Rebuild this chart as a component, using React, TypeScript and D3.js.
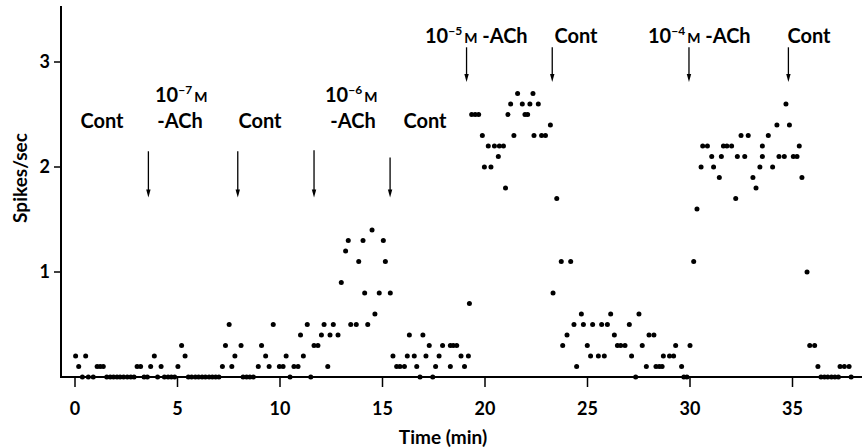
import React from 'react';
import * as d3 from 'd3';

// [time (min), spikes/sec], one array per period
const contA = [
  [0.03, 0.2], [0.18, 0.1], [0.36, 0], [0.52, 0.2], [0.65, 0], [0.89, 0], [1.08, 0.1], [1.23, 0.1], [1.38, 0.1],
  [1.55, 0], [1.72, 0], [1.88, 0], [2.05, 0], [2.2, 0], [2.37, 0], [2.55, 0], [2.72, 0], [2.88, 0],
  [3.03, 0.1], [3.2, 0.1], [3.37, 0], [3.53, 0],
];
const ach7 = [
  [3.69, 0.1], [3.87, 0.2], [4.03, 0], [4.2, 0.1], [4.36, 0], [4.54, 0], [4.7, 0], [4.86, 0], [5.02, 0.1],
  [5.2, 0.3], [5.37, 0.2], [5.53, 0], [5.69, 0], [5.87, 0], [6.03, 0], [6.2, 0], [6.36, 0], [6.54, 0],
  [6.7, 0], [6.86, 0], [7.02, 0], [7.19, 0.1], [7.34, 0.3], [7.52, 0.5], [7.65, 0.1], [7.8, 0.2],
];
const contB = [
  [8.1, 0.3], [8.2, 0], [8.37, 0], [8.53, 0], [8.7, 0], [8.94, 0.1], [9.1, 0.3], [9.3, 0.2], [9.47, 0.1],
  [9.67, 0.5], [9.97, 0.1], [10.15, 0.1], [10.3, 0.2], [10.49, 0], [10.68, 0.1], [10.88, 0.1], [11.0, 0.4],
  [11.14, 0.2], [11.33, 0.5], [11.5, 0],
];
const ach6 = [
  [11.66, 0.3], [11.85, 0.3], [12.02, 0.4], [12.15, 0.5], [12.33, 0.1], [12.44, 0.4], [12.6, 0.5], [12.83, 0.4],
  [12.99, 0.9], [13.2, 1.2], [13.33, 1.3], [13.45, 0.5], [13.72, 0.5], [13.84, 1.1], [14.05, 1.3], [14.13, 0.8],
  [14.28, 0.5], [14.49, 1.4], [14.63, 0.6], [14.84, 0.8], [15.04, 1.3], [15.14, 1.1], [15.38, 0.8],
];
const contC = [
  [15.51, 0.2], [15.69, 0.1], [15.85, 0.1], [16.07, 0.1], [16.21, 0.2], [16.31, 0.4], [16.55, 0.2], [16.67, 0.1],
  [16.83, 0], [16.97, 0.4], [17.12, 0.2], [17.28, 0.3], [17.45, 0], [17.59, 0.1], [17.76, 0.2], [17.93, 0.3],
  [18.31, 0.1], [18.31, 0.3], [18.45, 0.3], [18.62, 0.3], [18.83, 0.2], [19.0, 0.1], [19.19, 0.2], [19.24, 0.7],
];
const ach5 = [
  [19.35, 2.5], [19.52, 2.5], [19.69, 2.5], [19.87, 2.3], [19.97, 2.0], [20.16, 2.2], [20.29, 2.0], [20.46, 2.2],
  [20.65, 2.1], [20.7, 2.2], [20.9, 2.2], [21.0, 1.8], [21.12, 2.5], [21.25, 2.6], [21.41, 2.3], [21.59, 2.7],
  [21.82, 2.6], [21.95, 2.5], [22.08, 2.5], [22.19, 2.6], [22.34, 2.7], [22.39, 2.3], [22.6, 2.6], [22.76, 2.3],
  [22.95, 2.3], [23.19, 2.4],
];
const contD = [
  [23.32, 0.8], [23.5, 1.7], [23.72, 1.1], [23.79, 0.3], [24.0, 0.4], [24.18, 1.1], [24.34, 0.5], [24.47, 0.1],
  [24.7, 0.6], [24.8, 0.5], [24.99, 0.3], [25.15, 0.2], [25.25, 0.5], [25.53, 0.2], [25.69, 0.5], [25.82, 0.2],
  [25.97, 0.5], [26.13, 0.6], [26.31, 0.4], [26.46, 0.3], [26.62, 0.3], [26.83, 0.3], [27.04, 0.5], [27.15, 0.2],
  [27.35, 0], [27.51, 0.6], [27.67, 0.3], [27.87, 0.1], [28.0, 0.4], [28.24, 0.4], [28.34, 0.1], [28.5, 0.1],
  [28.64, 0.1], [28.7, 0.2], [29.0, 0.2], [29.2, 0.2], [29.3, 0.3], [29.59, 0.1], [29.7, 0], [29.85, 0],
];
const ach4 = [
  [30.0, 0.3], [30.18, 1.1], [30.34, 1.6], [30.54, 2.0], [30.62, 2.2], [30.85, 2.2], [31.06, 2.1], [31.15, 2.0],
  [31.43, 1.9], [31.53, 2.1], [31.63, 2.2], [31.8, 2.2], [32.03, 2.2], [32.23, 1.7], [32.31, 2.1], [32.49, 2.3],
  [32.67, 2.1], [32.84, 2.3], [33.07, 1.9], [33.22, 1.8], [33.41, 2.0], [33.53, 2.2], [33.53, 2.1], [33.82, 2.3],
  [34.03, 2.0], [34.24, 2.4], [34.34, 2.1], [34.6, 2.1], [34.68, 2.6],
];
const contE = [
  [34.85, 2.4], [35.04, 2.1], [35.22, 2.1], [35.33, 2.2], [35.46, 1.9], [35.71, 1.0], [35.84, 0.3], [36.08, 0.3],
  [36.24, 0.1], [36.39, 0], [36.56, 0], [36.72, 0], [36.9, 0], [37.07, 0], [37.24, 0], [37.32, 0.1], [37.53, 0.1],
  [37.76, 0.1], [37.86, 0],
];

const xTicks = [0, 5, 10, 15, 20, 25, 30, 35];
const yTicks = [1, 2, 3];

// arrows: [time, top of shaft (spikes/sec)]
const lowArrows = [[3.58, 2.15], [7.94, 2.15], [11.66, 2.16], [15.37, 2.09]];
const highArrows = [[19.1, 3.14], [23.28, 3.14], [29.95, 3.14], [34.8, 3.14]];

const font = 'Lato, "DejaVu Sans", sans-serif';
const lbl = { fontFamily: font, fontWeight: 700, fontSize: 20 };

function Conc({ x, y, exp, tail = '' }) {
  return (
    <text x={x} y={y} {...lbl}>
      10
      <tspan fontSize={12} dy={-8}>{'\u2212' + exp}</tspan>
      <tspan fontSize={14} dy={8} dx={2}>M</tspan>
      {tail}
    </text>
  );
}

export default function App() {
  const width = 867, height = 448;
  const x = d3.scaleLinear().domain([0, 35]).range([75, 792.5]);
  const y = d3.scaleLinear().domain([0, 3]).range([377, 62]);
  const all = [...contA, ...ach7, ...contB, ...ach6, ...contC, ...ach5, ...contD, ...ach4, ...contE];
  const x0 = 61, xEnd = 862;

  const arrow = (t, top, bottom, key) => {
    const ax = x(t);
    return (
      <g key={key}>
        <line x1={ax} x2={ax} y1={y(top)} y2={y(bottom) - 6} stroke="#000" strokeWidth={1.3} />
        <path d={`M${ax - 2.2},${y(bottom) - 8} L${ax + 2.2},${y(bottom) - 8} L${ax},${y(bottom)} Z`} fill="#000" />
      </g>
    );
  };

  return (
    <svg width={width} height={height} style={{ position: 'absolute', left: 0, top: 0, background: '#fff' }}>
      {/* axes */}
      <line x1={x0} x2={x0} y1={6} y2={378} stroke="#000" strokeWidth={2} />
      <line x1={x0 - 1} x2={xEnd} y1={377} y2={377} stroke="#000" strokeWidth={2} />
      {xTicks.map(t => (
        <g key={t}>
          <line x1={x(t)} x2={x(t)} y1={377} y2={387} stroke="#000" strokeWidth={1.5} />
          <text x={x(t)} y={415} textAnchor="middle" fontFamily={font} fontWeight={700} fontSize={18}>{t}</text>
        </g>
      ))}
      {yTicks.map(v => (
        <g key={v}>
          <line x1={x0 - 7} x2={x0} y1={y(v)} y2={y(v)} stroke="#000" strokeWidth={1.5} />
          <text x={x0 - 11} y={y(v) + 6} textAnchor="end" fontFamily={font} fontWeight={700} fontSize={18}>{v}</text>
        </g>
      ))}
      <text x={443} y={444} textAnchor="middle" fontFamily={font} fontWeight={700} fontSize={19}>Time (min)</text>
      <text transform="translate(27,178) rotate(-90)" textAnchor="middle" fontFamily={font} fontWeight={700} fontSize={19}>Spikes/sec</text>

      {/* dots */}
      {all.map((d, i) => (
        <circle key={i} cx={x(d[0])} cy={y(d[1])} r={2.5} fill="#000" />
      ))}

      {/* arrows */}
      {lowArrows.map((a, i) => arrow(a[0], a[1], 1.71, 'l' + i))}
      {highArrows.map((a, i) => arrow(a[0], a[1], 2.81, 'h' + i))}

      {/* labels */}
      <text x={102} y={128} {...lbl} textAnchor="middle">Cont</text>
      <Conc x={155} y={102} exp="7" />
      <text x={180} y={128} {...lbl} textAnchor="middle">-ACh</text>
      <text x={260} y={128} {...lbl} textAnchor="middle">Cont</text>
      <Conc x={325} y={102} exp="6" />
      <text x={353} y={128} {...lbl} textAnchor="middle">-ACh</text>
      <text x={425} y={128} {...lbl} textAnchor="middle">Cont</text>
      <Conc x={425} y={43} exp="5" tail=" -ACh" />
      <text x={576} y={43} {...lbl} textAnchor="middle">Cont</text>
      <Conc x={648} y={43} exp="4" tail=" -ACh" />
      <text x={809} y={43} {...lbl} textAnchor="middle">Cont</text>
    </svg>
  );
}
